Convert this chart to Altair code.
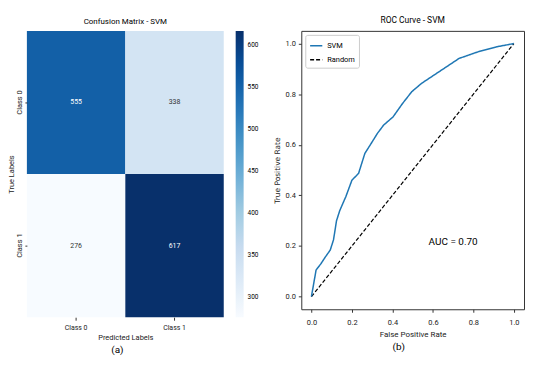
import altair as alt
import pandas as pd
import numpy as np

# Confusion matrix data
true_labels = ["Class 0", "Class 0", "Class 1", "Class 1"]
pred_labels = ["Class 0", "Class 1", "Class 0", "Class 1"]
counts = [555, 338, 276, 617]

# ROC curve data
fpr = [0.0, 0.023, 0.047, 0.07, 0.093, 0.109, 0.124, 0.14, 0.17, 0.20, 0.233, 0.264,
       0.295, 0.326, 0.357, 0.403, 0.45, 0.496, 0.543, 0.605, 0.667, 0.729, 0.822, 0.915, 1.0]
tpr = [0.0, 0.105, 0.13, 0.158, 0.184, 0.224, 0.30, 0.34, 0.395, 0.46, 0.487, 0.566,
       0.605, 0.645, 0.678, 0.71, 0.763, 0.81, 0.842, 0.875, 0.908, 0.941, 0.967, 0.987, 1.0]
rand_x = [0.0, 1.0]
rand_y = [0.0, 1.0]
cbar_ticks = [300, 350, 400, 450, 500, 550, 600]
axis_ticks = [0.0, 0.2, 0.4, 0.6, 0.8, 1.0]

FONT = "Roboto"
blues = ["#f7fbff", "#deebf7", "#c6dbef", "#9ecae1", "#6baed6",
         "#4292c6", "#2171b5", "#08519c", "#08306b"]
vmin, vmax = min(counts), max(counts)
cdomain = list(np.linspace(vmin, vmax, len(blues)))
mid = (vmin + vmax) / 2

cm = pd.DataFrame({"true": true_labels, "pred": pred_labels, "count": counts})

W1, H1 = 198, 288
base = alt.Chart(cm)
rect = base.mark_rect().encode(
    x=alt.X("pred:N", sort=["Class 0", "Class 1"],
            scale=alt.Scale(paddingInner=0, paddingOuter=0),
            axis=alt.Axis(title="Predicted Labels", labelAngle=0, domain=False,
                          tickSize=3, labelFontSize=7, titleFontSize=7.5,
                          labelPadding=3, titlePadding=3)),
    y=alt.Y("true:N", sort=["Class 0", "Class 1"],
            scale=alt.Scale(paddingInner=0, paddingOuter=0),
            axis=alt.Axis(title="True Labels", labelAngle=-90, labelAlign="center",
                          labelBaseline="bottom", domain=False, tickSize=2,
                          labelFontSize=7.5, titleFontSize=7.5, labelPadding=1,
                          titlePadding=0)),
    color=alt.Color("count:Q",
                    scale=alt.Scale(domain=cdomain, range=blues, interpolate="rgb"),
                    legend=alt.Legend(title=None, orient="right", offset=12,
                                      gradientLength=H1, gradientThickness=8,
                                      values=cbar_ticks, labelFontSize=6.5,
                                      direction="vertical", gradientStrokeWidth=0,
                                      labelOffset=4)),
)
txt = base.mark_text(fontSize=7, font=FONT).encode(
    x=alt.X("pred:N", sort=["Class 0", "Class 1"]),
    y=alt.Y("true:N", sort=["Class 0", "Class 1"]),
    text="count:Q",
    fill=alt.condition(alt.datum["count"] > mid, alt.value("white"), alt.value("#333333")),
)
cap_a = alt.Chart(pd.DataFrame({"c": ["(a)"]})).mark_text(fontSize=10, font=FONT).encode(
    text="c:N", x=alt.value(W1 / 2 - 8), y=alt.value(H1 + 33))
left = alt.layer(rect, txt, cap_a).properties(
    width=W1, height=H1,
    title=alt.TitleParams("Confusion Matrix - SVM", fontSize=8, fontWeight="normal",
                          font=FONT, offset=5))

# ROC
W2, H2 = 224, 280
roc = pd.DataFrame({"fpr": fpr, "tpr": tpr, "name": "SVM"})
rnd = pd.DataFrame({"fpr": rand_x, "tpr": rand_y, "name": "Random"})
xenc = alt.X("fpr:Q", scale=alt.Scale(domain=[-0.05, 1.05], nice=False, zero=False),
             axis=alt.Axis(title="False Positive Rate", values=axis_ticks, format=".1f",
                           grid=False, tickSize=3, labelFontSize=7.5, titleFontSize=8,
                           labelPadding=6, titlePadding=5, domain=False))
yenc = alt.Y("tpr:Q", scale=alt.Scale(domain=[-0.05, 1.05], nice=False, zero=False),
             axis=alt.Axis(title="True Positive Rate", values=axis_ticks, format=".1f",
                           grid=False, tickSize=3, labelFontSize=7.5,
                           labelPadding=3, titlePadding=4, domain=False,
                           titleFont="DejaVu Sans", titleFontSize=7.5))
col = alt.Color("name:N", scale=alt.Scale(domain=["SVM", "Random"], range=["#1f77b4", "black"]),
                legend=alt.Legend(title=None, orient="top-left", offset=4,
                                  strokeColor="#cccccc", fillColor="white", padding=4,
                                  labelFontSize=7.5, symbolType="stroke", symbolSize=150,
                                  cornerRadius=2, rowPadding=3))
dash = alt.StrokeDash("name:N", scale=alt.Scale(domain=["SVM", "Random"], range=[[1, 0], [4, 2]]),
                      legend=alt.Legend(title=None))
line = alt.Chart(roc).mark_line(strokeWidth=1.5).encode(x=xenc, y=yenc, color=col, strokeDash=dash, order="fpr:Q")
rline = alt.Chart(rnd).mark_line(strokeWidth=1.2).encode(x=xenc, y=yenc, color=col, strokeDash=dash)
auc = alt.Chart(pd.DataFrame({"x": [0.70], "y": [0.216], "t": ["AUC = 0.70"]})).mark_text(
    fontSize=10, font=FONT).encode(x="x:Q", y="y:Q", text="t:N")
cap_b = alt.Chart(pd.DataFrame({"c": ["(b)"]})).mark_text(fontSize=10, font=FONT).encode(
    text="c:N", x=alt.value(W2 / 2 - 14), y=alt.value(H2 + 38))
right = alt.layer(rline, line, auc, cap_b).properties(
    width=W2, height=H2,
    title=alt.TitleParams("ROC Curve - SVM", fontSize=8.5, fontWeight="normal",
                          font=FONT, offset=6))

chart = alt.hconcat(
    left.properties(view=alt.ViewBackground(stroke=None)),
    right.properties(view=alt.ViewBackground(stroke="#333", strokeWidth=1)),
    spacing=14,
).resolve_scale(color="independent", strokeDash="independent").configure(
    font=FONT, padding={"top": 7, "left": 0, "right": 0, "bottom": 0}
).configure_axis(labelFont=FONT, titleFont=FONT, labelColor="#222", titleColor="#222",
                 titleFontWeight="normal", tickColor="#333").configure_legend(labelFont=FONT)

chart.save("out.html", embed_options={"renderer": "svg", "actions": False})
